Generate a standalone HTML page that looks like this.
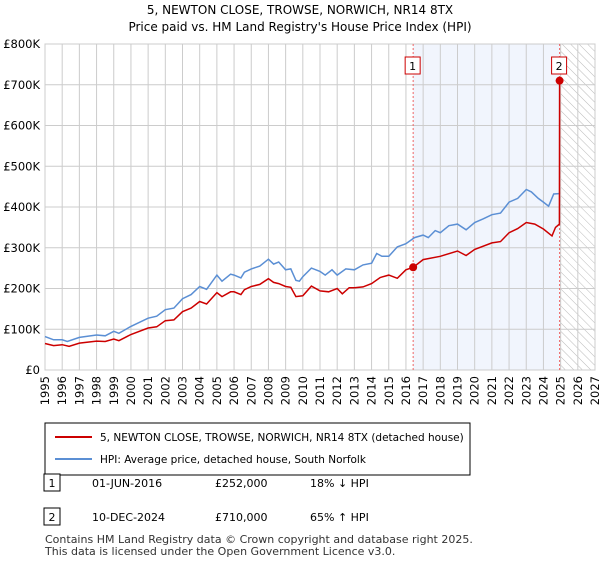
<!DOCTYPE html>
<html><head><meta charset="utf-8"><style>
body{margin:0;background:#fff;font-family:"Liberation Sans","DejaVu Sans",sans-serif;}
svg text{font-family:"DejaVu Sans","Liberation Sans",sans-serif;}
</style></head><body>
<svg id="c" width="600" height="560" viewBox="0 0 600 560">
<defs><pattern id="hatch" width="6" height="6" patternUnits="userSpaceOnUse" patternTransform="rotate(-45)"><line x1="0" y1="0" x2="0" y2="6" stroke="#bbb" stroke-width="1"/></pattern></defs>
<text x="300" y="14" text-anchor="middle" font-size="12">5, NEWTON CLOSE, TROWSE, NORWICH, NR14 8TX</text>
<text x="300" y="31" text-anchor="middle" font-size="12">Price paid vs. HM Land Registry's House Price Index (HPI)</text>
<g id="plot"></g>
<rect x="45" y="423" width="425" height="52" fill="#fff" stroke="#000" stroke-width="1"/>
<line x1="55" y1="437" x2="92" y2="437" stroke="#cc0000" stroke-width="2"/>
<text x="100" y="441" font-size="10.5">5, NEWTON CLOSE, TROWSE, NORWICH, NR14 8TX (detached house)</text>
<line x1="55" y1="459" x2="92" y2="459" stroke="#5b8fd4" stroke-width="2"/>
<text x="100" y="463" font-size="10.5">HPI: Average price, detached house, South Norfolk</text>
<rect x="44" y="474" width="16" height="17" fill="#fff" stroke="#000"/>
<text x="52" y="487" font-size="11" text-anchor="middle">1</text>
<text x="92" y="487" font-size="11">01-JUN-2016</text>
<text x="215" y="487" font-size="11">£252,000</text>
<text x="310" y="487" font-size="11">18% ↓ HPI</text>
<rect x="44" y="508" width="16" height="17" fill="#fff" stroke="#000"/>
<text x="52" y="521" font-size="11" text-anchor="middle">2</text>
<text x="92" y="521" font-size="11">10-DEC-2024</text>
<text x="215" y="521" font-size="11">£710,000</text>
<text x="310" y="521" font-size="11">65% ↑ HPI</text>
<text x="45" y="543" font-size="11" fill="#333">Contains HM Land Registry data © Crown copyright and database right 2025.</text>
<text x="45" y="555" font-size="11" fill="#333">This data is licensed under the Open Government Licence v3.0.</text>
</svg>
<script>
const yTicks=[0,100,200,300,400,500,600,700,800];
const yTickLabels=["£0","£100K","£200K","£300K","£400K","£500K","£600K","£700K","£800K"];
const xYears=[1995,1996,1997,1998,1999,2000,2001,2002,2003,2004,2005,2006,2007,2008,2009,2010,2011,2012,2013,2014,2015,2016,2017,2018,2019,2020,2021,2022,2023,2024,2025,2026,2027];
const hpiT=[1995,1995.5,1996,1996.3,1997,1998,1998.5,1999,1999.3,2000,2001,2001.5,2002,2002.5,2003,2003.5,2004,2004.4,2005,2005.3,2005.8,2006,2006.4,2006.6,2007,2007.5,2008,2008.3,2008.6,2009,2009.3,2009.6,2009.8,2010,2010.5,2011,2011.3,2011.7,2012,2012.5,2013,2013.5,2014,2014.3,2014.6,2015,2015.5,2016,2016.5,2017,2017.3,2017.7,2018,2018.5,2019,2019.5,2020,2020.5,2021,2021.5,2022,2022.5,2023,2023.3,2023.7,2024,2024.3,2024.6,2024.9];
const hpiV=[82,74,74,70,80,86,84,95,90,107,127,132,148,152,175,185,205,198,233,218,235,233,226,240,248,255,272,260,265,246,248,220,218,229,250,242,233,246,233,248,246,258,262,286,279,279,302,310,325,331,325,342,337,354,358,344,362,371,381,385,412,421,443,437,421,412,402,432,433];
const priceT=[1995,1995.5,1996,1996.4,1997,1998,1998.5,1999,1999.3,2000,2001,2001.5,2002,2002.5,2003,2003.5,2004,2004.4,2005,2005.3,2005.8,2006,2006.4,2006.6,2007,2007.5,2008,2008.3,2008.6,2009,2009.3,2009.6,2010,2010.5,2011,2011.5,2012,2012.3,2012.7,2013,2013.5,2014,2014.5,2015,2015.5,2016,2016.42,2017,2018,2019,2019.5,2020,2021,2021.5,2022,2022.5,2023,2023.5,2024,2024.5,2024.7,2024.93,2024.94];
const priceV=[65,60,62,58,66,71,70,76,72,87,103,106,121,123,143,152,168,162,190,180,192,192,185,197,205,210,224,215,212,205,203,180,182,206,194,192,200,187,202,202,204,212,227,233,225,246,252,271,279,292,281,296,312,315,337,347,362,358,346,329,350,358,710];
const saleT=[2016.42,2024.94];
const saleV=[252,710];
const x0=45,x1=595,y0=370,y1=44;
const X=t=>x0+(t-1995)/(2027-1995)*(x1-x0);
const Y=v=>y0-v/800*(y0-y1);
const NS="http://www.w3.org/2000/svg";
const g=document.getElementById('plot');
function mk(tag,attrs,parent){const e=document.createElementNS(NS,tag);for(const k in attrs)e.setAttribute(k,attrs[k]);(parent||g).appendChild(e);return e;}
let e;
e=mk('rect',{x:X(saleT[0]),y:y1,width:X(saleT[1])-X(saleT[0]),height:y0-y1,fill:'#eef3fd',opacity:0.8});


e=mk('rect',{x:X(2025),y:y1,width:x1-X(2025),height:y0-y1,fill:'url(#hatch)'});


yTicks.forEach((v,i)=>{
 e=mk('line',{x1:x0,x2:x1,y1:Y(v),y2:Y(v),stroke:'#ccc'});
 
 
 e=mk('text',{x:40,y:Y(v)+4,'text-anchor':'end','font-size':11.5});
 e.textContent=yTickLabels[i];
 
 
});
xYears.forEach(t=>{
 e=mk('line',{x1:X(t),x2:X(t),y1:y1,y2:y0,stroke:'#ccc'});
 
 
 e=mk('text',{x:X(t)+4,y:376,'text-anchor':'end','font-size':11.5,transform:`rotate(-90 ${X(t)+4} 376)`});
 e.textContent=t;
 
 
});
e=mk('rect',{x:x0,y:y1,width:x1-x0,height:y0-y1,fill:'none',stroke:'#ccc'});


saleT.forEach((t,i)=>{
 e=mk('line',{x1:X(t),x2:X(t),y1:y1,y2:y0,stroke:'#e66','stroke-dasharray':'2,2'});
 
 
});
const pts=(T,V)=>T.map((t,i)=>X(t).toFixed(1)+','+Y(V[i]).toFixed(1)).join(' ');
e=mk('polyline',{points:pts(hpiT,hpiV),fill:'none',stroke:'#5b8fd4','stroke-width':1.5});


e=mk('polyline',{points:pts(priceT,priceV),fill:'none',stroke:'#cc0000','stroke-width':1.5});


saleT.forEach((t,i)=>{
 e=mk('circle',{cx:X(t),cy:Y(saleV[i]),r:4,fill:'#cc0000'});
 
 
 e=mk('rect',{x:X(t)-8,y:57,width:15,height:17,fill:'#fff',stroke:'#cc0000'});
 
 
 e=mk('text',{x:X(t)-0.5,y:70,'text-anchor':'middle','font-size':11});
 e.textContent=String(i+1);
 
 
});
</script>
</body></html>
